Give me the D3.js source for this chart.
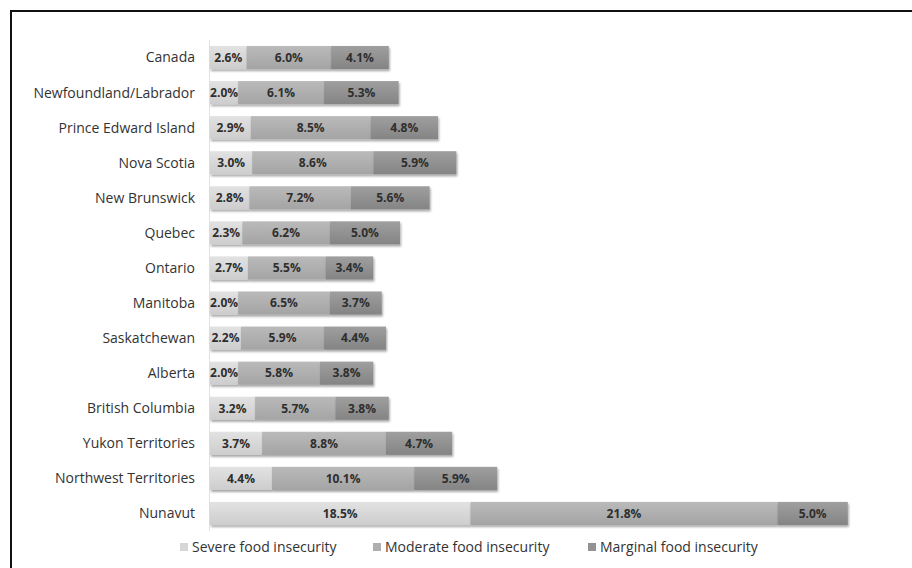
<!DOCTYPE html>
<html>
<head>
<meta charset="utf-8">
<script src="https://cdn.jsdelivr.net/npm/d3@7"></script>
<style>
  body { margin: 0; background: #fff; }
  svg { display: block; font-family: "Open Sans", "DejaVu Sans", sans-serif; }
</style>
</head>
<body>
<svg class="chart" width="912" height="568"></svg>
<script>
const provinces = [
  "Canada", "Newfoundland/Labrador", "Prince Edward Island", "Nova Scotia",
  "New Brunswick", "Quebec", "Ontario", "Manitoba", "Saskatchewan", "Alberta",
  "British Columbia", "Yukon Territories", "Northwest Territories", "Nunavut"
];
const severe   = [2.6, 2.0, 2.9, 3.0, 2.8, 2.3, 2.7, 2.0, 2.2, 2.0, 3.2, 3.7, 4.4, 18.5];
const moderate = [6.0, 6.1, 8.5, 8.6, 7.2, 6.2, 5.5, 6.5, 5.9, 5.8, 5.7, 8.8, 10.1, 21.8];
const marginal = [4.1, 5.3, 4.8, 5.9, 5.6, 5.0, 3.4, 3.7, 4.4, 3.8, 3.8, 4.7, 5.9, 5.0];
const seriesNames = ["Severe food insecurity", "Moderate food insecurity", "Marginal food insecurity"];
const seriesKeys = ["severe", "moderate", "marginal"];

const data = provinces.map((p, i) => ({
  province: p, severe: severe[i], moderate: moderate[i], marginal: marginal[i]
}));

const svg = d3.select(".chart");
const margin = { top: 40, left: 210 };

// frame (only top and left edges show)
svg.append("path")
  .attr("d", "M11,568 L11,11 L912,11")
  .attr("fill", "none")
  .attr("stroke", "#111")
  .attr("stroke-width", 2);

const x = d3.scaleLinear().domain([0, 10]).range([margin.left, margin.left + 140.8]);
const y = d3.scaleBand().domain(provinces).range([margin.top, 531]).paddingInner(0.34).paddingOuter(0.17);

const colors = { severe: ["#e2e2e2", "#cdcdcd"], moderate: ["#bababa", "#a4a4a4"], marginal: ["#9f9f9f", "#848484"] };
const legendColors = { severe: "#d6d6d6", moderate: "#afafaf", marginal: "#929292" };

const defs = svg.append("defs");
seriesKeys.forEach(k => {
  const g = defs.append("linearGradient").attr("id", "grad-" + k).attr("x1", 0).attr("y1", 0).attr("x2", 0).attr("y2", 1);
  g.append("stop").attr("offset", "0%").attr("stop-color", colors[k][0]);
  g.append("stop").attr("offset", "100%").attr("stop-color", colors[k][1]);
});
const shadow = defs.append("filter").attr("id", "shadow").attr("x", "-5%").attr("y", "-20%").attr("width", "110%").attr("height", "160%");
shadow.append("feDropShadow").attr("dx", 1).attr("dy", 2).attr("stdDeviation", 1.2).attr("flood-color", "#000").attr("flood-opacity", 0.35);

// axis line
svg.append("line")
  .attr("x1", margin.left - 0.5).attr("x2", margin.left - 0.5)
  .attr("y1", margin.top).attr("y2", 531)
  .attr("stroke", "#e2e2e2");

const stack = d3.stack().keys(seriesKeys)(data);

const rows = svg.append("g");
stack.forEach(layer => {
  rows.append("g")
    .attr("filter", "url(#shadow)")
    .selectAll("rect")
    .data(layer)
    .join("rect")
    .attr("x", d => x(d[0]))
    .attr("y", d => y(d.data.province))
    .attr("width", d => x(d[1]) - x(d[0]))
    .attr("height", y.bandwidth())
    .attr("fill", "url(#grad-" + layer.key + ")");
});

// value labels
stack.forEach(layer => {
  svg.append("g")
    .selectAll("text")
    .data(layer)
    .join("text")
    .attr("x", d => (x(d[0]) + x(d[1])) / 2)
    .attr("y", d => y(d.data.province) + y.bandwidth() / 2)
    .attr("dy", "0.36em")
    .attr("text-anchor", "middle")
    .attr("font-size", 12)
    .attr("font-weight", "bold")
    .attr("fill", "#2e2e2e")
    .text(d => (d[1] - d[0]).toFixed(1) + "%");
});

// category labels
svg.append("g")
  .selectAll("text")
  .data(provinces)
  .join("text")
  .attr("x", 195)
  .attr("y", d => y(d) + y.bandwidth() / 2)
  .attr("dy", "0.35em")
  .attr("text-anchor", "end")
  .attr("font-size", 14)
  .attr("fill", "#333")
  .text(d => d);

// legend
const legendX = [180, 373, 588];
const legend = svg.append("g").selectAll("g")
  .data(seriesKeys)
  .join("g")
  .attr("transform", (d, i) => `translate(${legendX[i]},547)`);
legend.append("rect").attr("x", 0).attr("y", -4).attr("width", 8).attr("height", 8)
  .attr("fill", d => legendColors[d]);
legend.append("text").attr("x", 12).attr("dy", "0.35em")
  .attr("font-size", 14).attr("fill", "#333")
  .text((d, i) => seriesNames[i]);
</script>
</body>
</html>
